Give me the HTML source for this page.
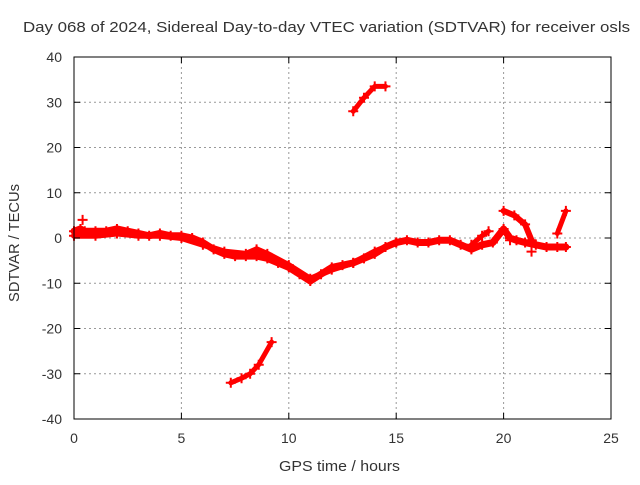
<!DOCTYPE html>
<html><head><meta charset="utf-8"><style>
body{margin:0;background:#fff;font-family:"Liberation Sans",sans-serif}
svg text{font-family:"Liberation Sans",sans-serif;font-size:14px;fill:#333}
</style></head><body>
<svg id="chart" width="640" height="480" xmlns="http://www.w3.org/2000/svg">
<rect width="640" height="480" fill="#fff"/>
<g id="grid"></g>
<g id="series"></g>
<rect x="74" y="57" width="537" height="362" fill="none" stroke="#000" stroke-width="1"/>
<g id="ticks"></g>
<text x="23" y="32" textLength="607" lengthAdjust="spacingAndGlyphs" style="font-size:15px">Day 068 of 2024, Sidereal Day-to-day VTEC variation (SDTVAR) for receiver osls</text>
<text x="279" y="471" textLength="121" lengthAdjust="spacingAndGlyphs" style="font-size:15px">GPS time / hours</text>
<text transform="translate(19,302) rotate(-90)" textLength="118" lengthAdjust="spacingAndGlyphs" style="font-size:15px">SDTVAR / TECUs</text>
</svg>
<script>
const xTicks=[0,5,10,15,20,25];
const yTicks=[-40,-30,-20,-10,0,10,20,30,40];
const mainHours=[0,0.3,0.5,1,1.5,2,2.5,3,3.5,4,4.5,5,5.5,6,6.5,7,7.5,8,8.5,9,9.5,10,10.5,11,11.5,12,12.5,13,13.5,14,14.5,15,15.5,16,16.5,17,17.5,18,18.5,19,19.5,20,20.3,20.6,21,21.5,22,22.5,22.9];
const mainVals=[1.5,2,1.5,1.5,1.5,2,1.5,1,0.5,1,0.5,0.5,0,-1,-2.5,-3.5,-4,-4,-4,-4.5,-5.5,-6.5,-8,-9.5,-8,-6.5,-6,-5.5,-4.5,-3.5,-2,-1,-0.5,-1,-1,-0.5,-0.5,-1.5,-2.5,-1.5,-1,2,0,-0.5,-1,-1.5,-2,-2,-2];
const band2Hours=[0,1,2,3,4,5,6,7,8,8.5,9,10,11,12,13,14,15];
const band2Vals=[0.5,0.5,1,0.5,0.5,0,-1.5,-3,-3.5,-2.5,-3.5,-6,-9,-7,-5.5,-3,-1];
const band3Hours=[18.5,19,19.3];
const band3Vals=[-1.5,0.5,1.5];
const topHours=[13,13.5,14,14.5];
const topVals=[28,31,33.5,33.5];
const botHours=[7.3,7.8,8.2,8.6,9.2];
const botVals=[-32,-31,-30,-28,-23];
const arcHours=[20,20.5,21,21.3];
const arcVals=[6,5,3,-0.5];
const riseHours=[22.5,22.9];
const riseVals=[1,6];
const dotHours=[21.3,0.4,20.3];
const dotVals=[-3,4,-0.5];
const X=h=>74+h*537/25, Y=v=>238-v*362/80;
const NS="http://www.w3.org/2000/svg";
const grid=document.getElementById('grid'),ticks=document.getElementById('ticks'),ser=document.getElementById('series');
function el(t,a,p){const e=document.createElementNS(NS,t);for(const k in a)e.setAttribute(k,a[k]);p.appendChild(e);return e;}
xTicks.forEach(t=>{const x=X(t);
 if(t>0&&t<25){const g=el('line',{x1:x,x2:x,y1:57,y2:419,stroke:'#999','stroke-dasharray':'2,3'},grid);
 
 }
 el('line',{x1:x,x2:x,y1:419,y2:413,stroke:'#000'},ticks);el('line',{x1:x,x2:x,y1:57,y2:63,stroke:'#000'},ticks);
 const l=el('text',{x:x,y:443,'text-anchor':'middle'},ticks);l.textContent=t;
 
 });
yTicks.forEach(t=>{const y=Y(t);
 if(t>-40&&t<40){const g=el('line',{x1:74,x2:611,y1:y,y2:y,stroke:'#999','stroke-dasharray':'2,3'},grid);
 
 }
 el('line',{x1:74,x2:80,y1:y,y2:y,stroke:'#000'},ticks);el('line',{x1:611,x2:605,y1:y,y2:y,stroke:'#000'},ticks);
 const l=el('text',{x:62,y:y+5,'text-anchor':'end'},ticks);l.textContent=t;
 
 });
function series(hs,vs,name,w,line){
 if(line&&hs.length>1){const p=el('polyline',{points:hs.map((h,i)=>X(h)+','+Y(vs[i])).join(' '),fill:'none',stroke:'#f00','stroke-width':w,'stroke-linejoin':'round','stroke-linecap':'round'},ser);
 
 }
 hs.forEach((h,i)=>{const x=X(h),y=Y(vs[i]);
 const m=el('path',{d:`M${x-5},${y}h10M${x},${y-5}v10`,stroke:'#f00','stroke-width':2},ser);
 
 });
}
series(mainHours,mainVals,'sdtvar-main',7,true);
series(band2Hours,band2Vals,'sdtvar-band',6,true);
series(band3Hours,band3Vals,'sdtvar-band-late',5,true);
series(topHours,topVals,'sdtvar-upper-arc',5,true);
series(botHours,botVals,'sdtvar-lower-arc',5,true);
series(arcHours,arcVals,'sdtvar-evening-arc',6,true);
series(riseHours,riseVals,'sdtvar-final-rise',5,true);
series(dotHours,dotVals,'sdtvar-outlier',2,false);
</script>
</body></html>
